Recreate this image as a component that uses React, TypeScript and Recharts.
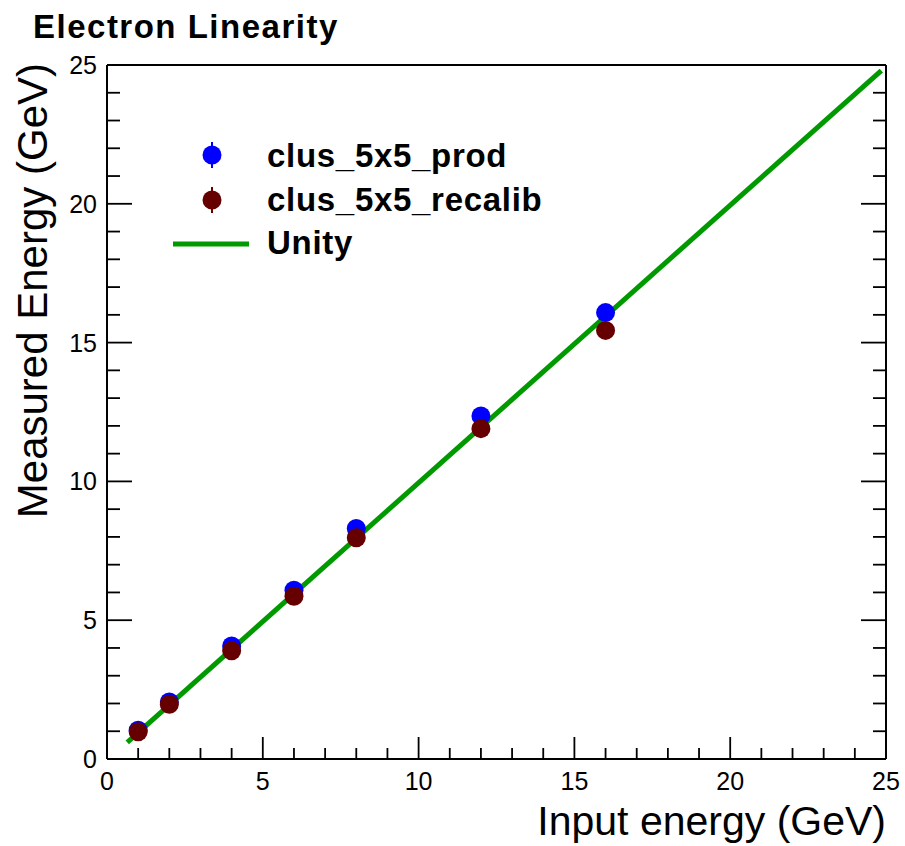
import React from 'react';
import { ScatterChart, Scatter, XAxis, YAxis, Legend } from 'recharts';

const energies = [1, 2, 4, 6, 8, 12, 16];
const prodValues = [1.04, 2.05, 4.07, 6.08, 8.3, 12.36, 16.08];
const recalibValues = [0.98, 1.97, 3.9, 5.86, 7.97, 11.9, 15.44];
const unityX = [0.65, 24.85];
const unityY = [0.6, 24.8];
const axisTicks = Array.from({ length: 26 }, (_, i) => i);

const prodData = energies.map((x, i) => ({ x, y: prodValues[i] }));
const recalibData = energies.map((x, i) => ({ x, y: recalibValues[i] }));
const unityData = unityX.map((x, i) => ({ x, y: unityY[i] }));

const FONT = '"Liberation Sans", Arial, Helvetica, sans-serif';
const BLUE = '#0000ff';
const DARKRED = '#660000';
const GREEN = '#009900';

const BottomTick = (p: any) => {
  const v = p.payload.value;
  const major = v % 5 === 0;
  return (
    <g>
      <line x1={p.x} x2={p.x} y1={p.y} y2={p.y - (major ? 22 : 11)} stroke="#000" strokeWidth={1.8} />
      {major && (
        <text x={p.x} y={p.y + 31} textAnchor="middle" fontSize={25} fontFamily={FONT} fill="#000">
          {v}
        </text>
      )}
    </g>
  );
};

const TopTick = (p: any) => {
  const v = p.payload.value;
  const major = v % 5 === 0;
  return <line x1={p.x} x2={p.x} y1={p.y} y2={p.y + (major ? 22 : 11)} stroke="#000" strokeWidth={1.8} />;
};

const LeftTick = (p: any) => {
  const v = p.payload.value;
  const major = v % 5 === 0;
  return (
    <g>
      <line x1={p.x} x2={p.x + (major ? 25 : 13)} y1={p.y} y2={p.y} stroke="#000" strokeWidth={1.8} />
      {major && (
        <text x={p.x - 10} y={p.y + 9} textAnchor="end" fontSize={25} fontFamily={FONT} fill="#000">
          {v}
        </text>
      )}
    </g>
  );
};

const RightTick = (p: any) => {
  const v = p.payload.value;
  const major = v % 5 === 0;
  return <line x1={p.x} x2={p.x - (major ? 25 : 13)} y1={p.y} y2={p.y} stroke="#000" strokeWidth={1.8} />;
};

const marker = (color: string) => (p: any) => <circle cx={p.cx} cy={p.cy} r={9.5} fill={color} />;

const LegendBox = () => (
  <svg width={420} height={140} style={{ display: 'block' }}>
    <line x1={52} x2={52} y1={12} y2={38} stroke={BLUE} strokeWidth={2} />
    <circle cx={52} cy={25} r={9.5} fill={BLUE} />
    <text x={107} y={37} fontSize={33} fontWeight="bold" letterSpacing={0.7} fontFamily={FONT} fill="#000">
      clus_5x5_prod
    </text>
    <line x1={52} x2={52} y1={57} y2={83} stroke={DARKRED} strokeWidth={2} />
    <circle cx={52} cy={70} r={9.5} fill={DARKRED} />
    <text x={107} y={81} fontSize={33} fontWeight="bold" letterSpacing={0.7} fontFamily={FONT} fill="#000">
      clus_5x5_recalib
    </text>
    <line x1={13} x2={89} y1={114} y2={114} stroke={GREEN} strokeWidth={5} />
    <text x={107} y={124} fontSize={33} fontWeight="bold" letterSpacing={0.7} fontFamily={FONT} fill="#000">
      Unity
    </text>
  </svg>
);

export default function App() {
  return (
    <div style={{ position: 'absolute', left: 0, top: 0, width: 905, height: 846, background: '#fff' }}>
      <ScatterChart width={905} height={846} margin={{ top: 64, right: 18, bottom: 86, left: 106 }}>
        <XAxis
          type="number"
          dataKey="x"
          domain={[0, 25]}
          ticks={axisTicks}
          interval={0}
          height={1}
          tickSize={0}
          tickMargin={0}
          tickLine={false}
          axisLine={{ stroke: '#000', strokeWidth: 2 }}
          tick={<BottomTick />}
          allowDataOverflow
        />
        <XAxis
          xAxisId="top"
          orientation="top"
          type="number"
          domain={[0, 25]}
          ticks={axisTicks}
          interval={0}
          height={1}
          tickSize={0}
          tickMargin={0}
          tickLine={false}
          axisLine={{ stroke: '#000', strokeWidth: 2 }}
          tick={<TopTick />}
          allowDataOverflow
        />
        <YAxis
          type="number"
          dataKey="y"
          domain={[0, 25]}
          ticks={axisTicks}
          interval={0}
          width={1}
          tickSize={0}
          tickMargin={0}
          tickLine={false}
          axisLine={{ stroke: '#000', strokeWidth: 2 }}
          tick={<LeftTick />}
          allowDataOverflow
        />
        <YAxis
          yAxisId="right"
          orientation="right"
          type="number"
          domain={[0, 25]}
          ticks={axisTicks}
          interval={0}
          width={1}
          tickSize={0}
          tickMargin={0}
          tickLine={false}
          axisLine={{ stroke: '#000', strokeWidth: 2 }}
          tick={<RightTick />}
          allowDataOverflow
        />
        <Legend
          layout="horizontal"
          verticalAlign="middle"
          align="center"
          content={() => <LegendBox />}
          wrapperStyle={{ position: 'absolute', left: 160, top: 130, width: 420, height: 140 }}
        />
        <Scatter
          name="Unity"
          data={unityData}
          line={{ stroke: GREEN, strokeWidth: 5 }}
          lineType="joint"
          shape={() => <g />}
          isAnimationActive={false}
        />
        <Scatter name="clus_5x5_prod" data={prodData} shape={marker(BLUE)} isAnimationActive={false} />
        <Scatter name="clus_5x5_recalib" data={recalibData} shape={marker(DARKRED)} isAnimationActive={false} />
        <text x={33} y={38} fontSize={33} fontWeight="bold" letterSpacing={1.5} fontFamily={FONT} fill="#000">
          Electron Linearity
        </text>
        <text x={886} y={835} textAnchor="end" fontSize={41} fontFamily={FONT} fill="#000">
          Input energy (GeV)
        </text>
        <text
          x={47}
          y={63}
          transform="rotate(-90 47 63)"
          textAnchor="end"
          fontSize={42}
          fontFamily={FONT}
          fill="#000"
        >
          Measured Energy (GeV)
        </text>
      </ScatterChart>
    </div>
  );
}
